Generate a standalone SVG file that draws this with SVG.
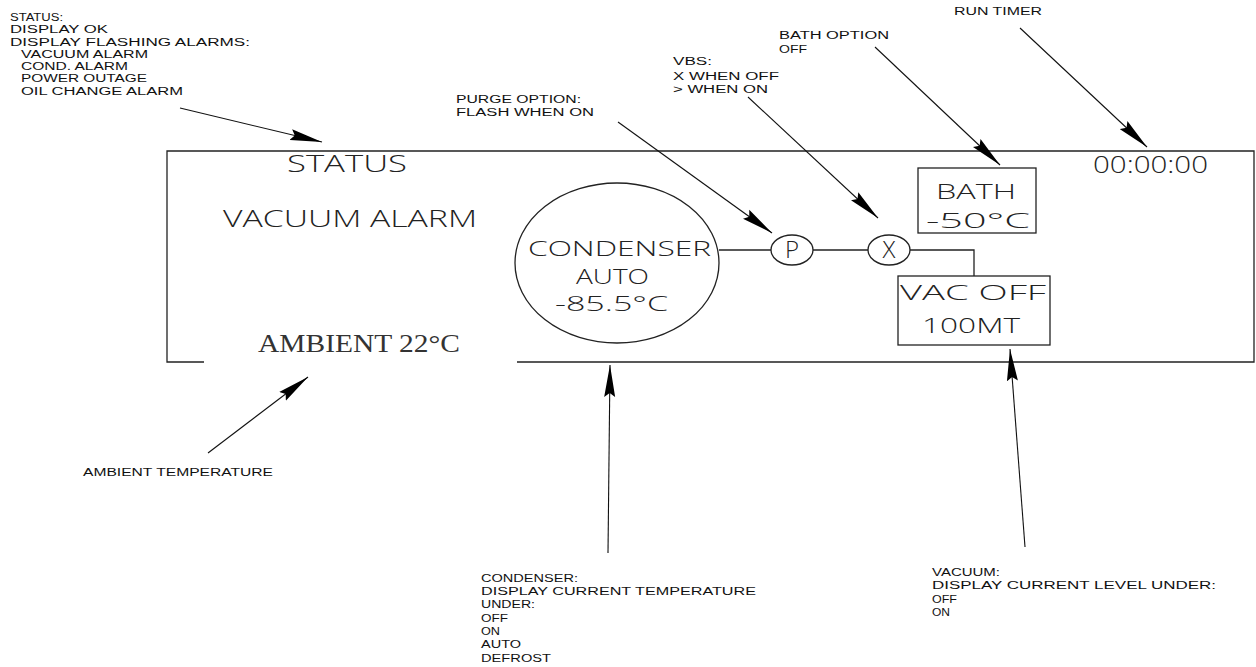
<svg xmlns="http://www.w3.org/2000/svg" width="1256" height="667" viewBox="0 0 1256 667">
<defs>
<style>
.note{font-family:"Liberation Sans",Arial,sans-serif;font-size:10px;fill:#111;}
.disp{font-family:"Open Sans","Liberation Sans",sans-serif;font-weight:300;font-size:24px;fill:#222;}
.sm{font-size:21px;}
.serif{font-family:"Liberation Serif","Times New Roman",serif;font-size:25px;fill:#333;}
.ln{fill:none;stroke:#222;stroke-width:1.3;}
.ar{fill:none;stroke:#111;stroke-width:1.1;marker-end:url(#ah);}
</style>
<marker id="ah" viewBox="0 0 32 12" refX="32" refY="6" markerWidth="32" markerHeight="12" markerUnits="userSpaceOnUse" orient="auto">
<path d="M0,0.5 L32,6 L0,11.5 L4,6 Z" fill="#000"/>
</marker>
</defs>
<rect width="1256" height="667" fill="#fff"/>

<g id="display-frame">
<path class="ln" d="M204,362 H167 V151 H1254 V362 H517"/>
</g>

<g id="status">
<text class="disp" x="287" y="172" textLength="120" lengthAdjust="spacingAndGlyphs">STATUS</text>
</g>
<g id="vacuum-alarm">
<text class="disp" x="223" y="227" textLength="254" lengthAdjust="spacingAndGlyphs">VACUUM ALARM</text>
</g>
<g id="ambient">
<text class="serif" x="258" y="352" textLength="202" lengthAdjust="spacingAndGlyphs">AMBIENT 22°C</text>
</g>
<g id="run-timer">
<text class="disp" x="1093" y="173" textLength="115" lengthAdjust="spacingAndGlyphs">00:00:00</text>
</g>
<g id="condenser">
<ellipse class="ln" cx="617" cy="263" rx="102" ry="80"/>
<text class="disp sm" x="528" y="256" textLength="183" lengthAdjust="spacingAndGlyphs">CONDENSER</text>
<text class="disp sm" x="576" y="284" textLength="73" lengthAdjust="spacingAndGlyphs">AUTO</text>
<text class="disp sm" x="555" y="311" textLength="113" lengthAdjust="spacingAndGlyphs">-85.5°C</text>
</g>
<g id="purge">
<ellipse class="ln" cx="792" cy="250" rx="21" ry="15"/>
<text class="disp" x="792" y="258" text-anchor="middle" font-size="21">P</text>
</g>
<g id="vbs">
<ellipse class="ln" cx="889" cy="250" rx="21" ry="15"/>
<text class="disp" x="889" y="258" text-anchor="middle" font-size="21">X</text>
</g>
<g id="bath">
<rect class="ln" x="918" y="168" width="118" height="65"/>
<text class="disp sm" x="936" y="199" textLength="80" lengthAdjust="spacingAndGlyphs">BATH</text>
<text class="disp sm" x="926" y="228" textLength="104" lengthAdjust="spacingAndGlyphs">-50°C</text>
</g>
<g id="vac">
<rect class="ln" x="898" y="276" width="152" height="69"/>
<text class="disp sm" x="900" y="300" textLength="146" lengthAdjust="spacingAndGlyphs">VAC OFF</text>
<text class="disp sm" x="922" y="333" textLength="98" lengthAdjust="spacingAndGlyphs">100MT</text>
</g>

<g id="notes">
<text class="note" x="10" y="21" textLength="53" lengthAdjust="spacingAndGlyphs">STATUS:</text>
<text class="note" x="10" y="33" textLength="98" lengthAdjust="spacingAndGlyphs">DISPLAY OK</text>
<text class="note" x="10" y="46" textLength="240" lengthAdjust="spacingAndGlyphs">DISPLAY FLASHING ALARMS:</text>
<text class="note" x="21" y="58" textLength="127" lengthAdjust="spacingAndGlyphs">VACUUM ALARM</text>
<text class="note" x="21" y="70" textLength="107" lengthAdjust="spacingAndGlyphs">COND. ALARM</text>
<text class="note" x="21" y="82" textLength="126" lengthAdjust="spacingAndGlyphs">POWER OUTAGE</text>
<text class="note" x="21" y="95" textLength="162" lengthAdjust="spacingAndGlyphs">OIL CHANGE ALARM</text>

<text class="note" x="456" y="103" textLength="125" lengthAdjust="spacingAndGlyphs">PURGE OPTION:</text>
<text class="note" x="456" y="116" textLength="138" lengthAdjust="spacingAndGlyphs">FLASH WHEN ON</text>

<text class="note" x="673" y="65" textLength="39" lengthAdjust="spacingAndGlyphs">VBS:</text>
<text class="note" x="673" y="80" textLength="106" lengthAdjust="spacingAndGlyphs">X WHEN OFF</text>
<text class="note" x="673" y="93" textLength="95" lengthAdjust="spacingAndGlyphs">&gt; WHEN ON</text>

<text class="note" x="779" y="39" textLength="110" lengthAdjust="spacingAndGlyphs">BATH OPTION</text>
<text class="note" x="779" y="53" textLength="28" lengthAdjust="spacingAndGlyphs">OFF</text>

<text class="note" x="954" y="15" textLength="88" lengthAdjust="spacingAndGlyphs">RUN TIMER</text>

<text class="note" x="83" y="476" textLength="190" lengthAdjust="spacingAndGlyphs">AMBIENT TEMPERATURE</text>

<text class="note" x="481" y="582" textLength="97" lengthAdjust="spacingAndGlyphs">CONDENSER:</text>
<text class="note" x="481" y="595" textLength="275" lengthAdjust="spacingAndGlyphs">DISPLAY CURRENT TEMPERATURE</text>
<text class="note" x="481" y="608" textLength="54" lengthAdjust="spacingAndGlyphs">UNDER:</text>
<text class="note" x="481" y="622" textLength="27" lengthAdjust="spacingAndGlyphs">OFF</text>
<text class="note" x="481" y="635" textLength="19" lengthAdjust="spacingAndGlyphs">ON</text>
<text class="note" x="481" y="648" textLength="40" lengthAdjust="spacingAndGlyphs">AUTO</text>
<text class="note" x="481" y="662" textLength="70" lengthAdjust="spacingAndGlyphs">DEFROST</text>

<text class="note" x="932" y="576" textLength="68" lengthAdjust="spacingAndGlyphs">VACUUM:</text>
<text class="note" x="932" y="589" textLength="284" lengthAdjust="spacingAndGlyphs">DISPLAY CURRENT LEVEL UNDER:</text>
<text class="note" x="932" y="603" textLength="25" lengthAdjust="spacingAndGlyphs">OFF</text>
<text class="note" x="932" y="616" textLength="18" lengthAdjust="spacingAndGlyphs">ON</text>
</g>

<g id="connectors">
<path class="ln" d="M719,250 H771"/>
<path class="ln" d="M813,250 H868"/>
<path class="ln" d="M910,250 H974 V276"/>
<path class="ar" d="M180,108 L322,142"/>
<path class="ar" d="M618,122 L772,233"/>
<path class="ar" d="M748,97 L878,218"/>
<path class="ar" d="M875,47 L1000,165"/>
<path class="ar" d="M1020,28 L1147,147"/>
<path class="ar" d="M208,453 L308,377"/>
<path class="ar" d="M608,553 L610,365"/>
<path class="ar" d="M1025,547 L1010,349"/>
</g>
</svg>
